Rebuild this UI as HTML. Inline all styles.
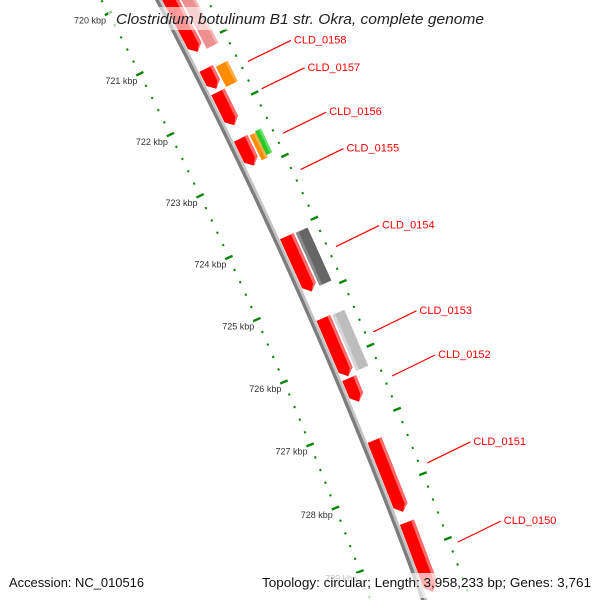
<!DOCTYPE html>
<html><head><meta charset="utf-8"><style>
html,body{margin:0;padding:0;background:#fff;width:600px;height:600px;overflow:hidden;}
svg{display:block;font-family:"Liberation Sans",sans-serif;}
</style></head><body>
<svg id="map" width="600" height="600" viewBox="0 0 600 600" xmlns="http://www.w3.org/2000/svg">
<g id="ticks"></g>
<g id="backbone"></g>
<g id="genes"></g>
<g id="labels"></g>
<rect x="108" y="7" width="384" height="23" fill="#fff" fill-opacity="0.6"/>
<text x="116" y="24" font-size="14.5" font-style="italic" fill="#222" textLength="368" lengthAdjust="spacingAndGlyphs">Clostridium botulinum B1 str. Okra, complete genome</text>
<rect x="4" y="573" width="146" height="25" fill="#fff" fill-opacity="0.7"/>
<rect x="256" y="573" width="341" height="25" fill="#fff" fill-opacity="0.7"/>
<text x="9" y="587" font-size="13" fill="#111" textLength="135" lengthAdjust="spacingAndGlyphs">Accession: NC_010516</text>
<text x="262" y="587" font-size="13" fill="#111" textLength="329" lengthAdjust="spacingAndGlyphs">Topology: circular; Length: 3,958,233 bp; Genes: 3,761</text>
</svg>
<script>
const geneStart = [719.5, 719.5, 721.37, 721.41, 721.75, 722.50, 722.52, 722.50, 724.07, 724.08, 725.37, 725.38, 726.32, 727.29, 728.57];
const geneEnd   = [721.10, 721.12, 721.70, 721.74, 722.29, 722.94, 722.92, 722.88, 724.95, 724.92, 726.29, 726.26, 726.69, 728.41, 729.65];
const geneTrack = [0, 1, 0, 1, 0, 0, 2, 3, 0, 1, 0, 1, 0, 0, 0];
const geneType  = ["cds", "pink", "cds", "orange", "cds", "cds", "orange", "green", "cds", "dark", "cds", "light", "cds", "cds", "cds"];
const labelNames = ["CLD_0158", "CLD_0157", "CLD_0156", "CLD_0155", "CLD_0154", "CLD_0153", "CLD_0152", "CLD_0151", "CLD_0150"];
const labelKbp   = [721.55, 721.99, 722.70, 723.28, 724.5, 725.84, 726.53, 727.88, 729.1];
const tickLabels = [720, 721, 722, 723, 724, 725, 726, 727, 728, 729];

const NS = "http://www.w3.org/2000/svg";
const CX = -4169, CY = 2276, R0 = 4890;
function ang(k){ return (-25.46 + (k - 723) * 0.806) * Math.PI / 180; }
function pt(k, r){ const a = ang(k), R = R0 + r; return [CX + R * Math.cos(a), CY + R * Math.sin(a)]; }
function mk(tag, attrs, parent){ const e = document.createElementNS(NS, tag); for (const k in attrs) e.setAttribute(k, attrs[k]); parent.appendChild(e); return e; }
function poly(points){ return points.map(p => p[0].toFixed(1) + "," + p[1].toFixed(1)).join(" "); }

const tickG = document.getElementById("ticks");
for (let i = 0; i <= 55; i++) {
  const k = 719.4 + i * 0.2;
  const major = Math.abs(k - Math.round(k)) < 0.01;
  [-51, 43].forEach(function(r){
    const a = pt(k, r - (major ? 4 : 1)), b = pt(k, r + (major ? 4 : 1));
    const l = mk("line", {x1:a[0], y1:a[1], x2:b[0], y2:b[1], stroke:"#0a860a", "stroke-width": major ? 2.4 : 2.2}, tickG);
    
    
  });
}
tickLabels.forEach(function(k){
  const p = pt(k, -56);
  const t = mk("text", {x:p[0] + 2, y:p[1] + 8, "text-anchor":"end", "font-size":"9", fill:"#333"}, tickG);
  t.textContent = k + " kbp";
  
  
});

const bb = document.getElementById("backbone");
function arcBand(k0, k1, r0, r1, fill, parent){
  const pts = [];
  for (let i = 0; i <= 20; i++) pts.push(pt(k0 + (k1 - k0) * i / 20, r0));
  for (let i = 20; i >= 0; i--) pts.push(pt(k0 + (k1 - k0) * i / 20, r1));
  return mk("polygon", {points: poly(pts), fill: fill}, parent);
}
const b1 = arcBand(719.5, 730.2, -3.5, 0, "#7d7d7d", bb);


const b2 = arcBand(719.5, 730.2, 0, 2.5, "#c4c4c4", bb);



const colors = {cds:["#ff0000","#ff6a6a"], pink:["#ee8f8f","#f5b5b5"], orange:["#ff8c00","#ffb048"], green:["#28c828","#66e066"], dark:["#666666","#8a8a8a"], light:["#bdbdbd","#d6d6d6"]};
const trackR = [[3,18],[20,33],[20,26.5],[26.5,33]];
const gg = document.getElementById("genes");
for (let i = 0; i < geneStart.length; i++) {
  const s = geneStart[i], e = geneEnd[i], tr = trackR[geneTrack[i]], c = colors[geneType[i]];
  const g = mk("g", {}, gg);
  
  
  if (geneTrack[i] === 0) {
    const ae = e - 0.1, mid = (tr[0] + tr[1]) / 2;
    mk("polygon", {points: poly([pt(s,tr[0]), pt(ae,tr[0]), pt(e,mid), pt(ae,tr[1]), pt(s,tr[1])]), fill:c[0]}, g);
    mk("polygon", {points: poly([pt(s,tr[1]-3), pt(ae,tr[1]-3), pt(e,mid), pt(ae,tr[1]), pt(s,tr[1])]), fill:c[1]}, g);
  } else {
    mk("polygon", {points: poly([pt(s,tr[0]), pt(e,tr[0]), pt(e,tr[1]), pt(s,tr[1])]), fill:c[0]}, g);
    const hi = (geneType[i] === "dark" || geneType[i] === "light") ? [tr[0], tr[0]+3] : [tr[1]-2.5, tr[1]];
    mk("polygon", {points: poly([pt(s,hi[0]), pt(e,hi[0]), pt(e,hi[1]), pt(s,hi[1])]), fill:c[1]}, g);
  }
}

const lg = document.getElementById("labels");
for (let i = 0; i < labelNames.length; i++) {
  const a = pt(labelKbp[i], 51);
  const b = [a[0] + 43, a[1] - 21];
  const l = mk("line", {x1:a[0], y1:a[1], x2:b[0], y2:b[1], stroke:"#ff0000", "stroke-width":1.2}, lg);
  
  
  const t = mk("text", {x:b[0] + 3, y:b[1] + 3, "font-size":"11", fill:"#ff0000"}, lg);
  t.textContent = labelNames[i];
  
  
}
</script>
</body></html>
